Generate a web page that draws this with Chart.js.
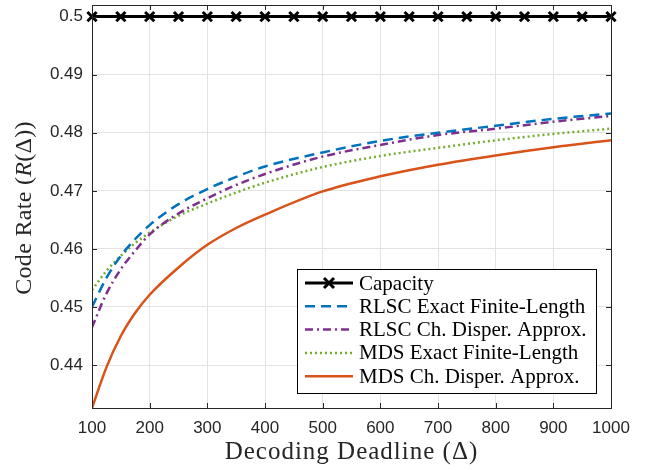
<!DOCTYPE html>
<html>
<head>
<meta charset="utf-8">
<script src="https://cdn.jsdelivr.net/npm/chart.js@4.4.1/dist/chart.umd.min.js"></script>
<style>
  html, body { margin: 0; padding: 0; background: #fff; }
  #chart { display: block; }
</style>
</head>
<body>
<canvas id="chart" width="645" height="470"></canvas>
<script>
// deadlines (Delta) where the curves were read
var deadlines = [100, 125, 150, 175, 200, 250, 300, 350, 400, 500, 600, 700, 800, 900, 1000];
var rlscExact = [0.4500, 0.4550, 0.4588, 0.4617, 0.4641, 0.4677, 0.4703, 0.4724, 0.4742, 0.4766, 0.4786, 0.4800, 0.4812, 0.4824, 0.4833];
var rlscApprox = [0.4465, 0.4523, 0.4565, 0.4597, 0.4625, 0.4661, 0.4687, 0.4710, 0.4729, 0.4759, 0.4779, 0.4796, 0.4807, 0.4819, 0.4829];
var mdsExact = [0.4529, 0.4562, 0.4588, 0.4610, 0.4628, 0.4657, 0.4678, 0.4697, 0.4714, 0.4741, 0.4760, 0.4774, 0.4787, 0.4798, 0.4807];
var mdsApprox = [0.4326, 0.4396, 0.4450, 0.4490, 0.4521, 0.4568, 0.4607, 0.4636, 0.4659, 0.4699, 0.4725, 0.4745, 0.4761, 0.4775, 0.4787];

// capacity markers
var capDeadlines = [100, 150, 200, 250, 300, 350, 400, 450, 500, 550, 600, 650, 700, 750, 800, 850, 900, 950, 1000];
var capacity = [0.5, 0.5, 0.5, 0.5, 0.5, 0.5, 0.5, 0.5, 0.5, 0.5, 0.5, 0.5, 0.5, 0.5, 0.5, 0.5, 0.5, 0.5, 0.5];

var xTicks = [100, 200, 300, 400, 500, 600, 700, 800, 900, 1000];
var yTicks = [0.44, 0.45, 0.46, 0.47, 0.48, 0.49, 0.5];

var labels = ["Capacity", "RLSC Exact Finite-Length", "RLSC Ch. Disper. Approx.", "MDS Exact Finite-Length", "MDS Ch. Disper. Approx."];

function pts(xs, ys) {
  return xs.map(function (x, i) { return { x: x, y: ys[i] }; });
}

var axisColor = "#262626";
var serif = "'Liberation Serif', 'Times New Roman', serif";
var sans = "'Liberation Sans', Arial, sans-serif";

// draw text pieces (some italic) centred on 0,0
function mixedText(ctx, parts, size, spacing) {
  ctx.letterSpacing = spacing + "px";
  var w = 0;
  parts.forEach(function (p) {
    ctx.font = (p[1] ? "italic " : "") + size + "px " + serif;
    w += ctx.measureText(p[0]).width;
  });
  var x = -w / 2;
  parts.forEach(function (p) {
    ctx.font = (p[1] ? "italic " : "") + size + "px " + serif;
    ctx.fillText(p[0], x, 0);
    x += ctx.measureText(p[0]).width;
  });
  ctx.letterSpacing = "0px";
}

// inward ticks on all sides + box, MATLAB style
var boxPlugin = {
  id: "box",
  afterDraw: function (chart) {
    var ctx = chart.ctx, a = chart.chartArea;
    var xs = chart.scales.x, ys = chart.scales.y;
    ctx.save();
    ctx.strokeStyle = axisColor;
    ctx.lineWidth = 1;
    ctx.strokeRect(a.left + 0.5, a.top + 0.5, a.right - a.left, a.bottom - a.top);
    ctx.beginPath();
    xTicks.forEach(function (t) {
      var px = Math.round(xs.getPixelForValue(t)) + 0.5;
      ctx.moveTo(px, a.bottom); ctx.lineTo(px, a.bottom - 5);
      ctx.moveTo(px, a.top); ctx.lineTo(px, a.top + 5);
    });
    yTicks.forEach(function (t) {
      var py = Math.round(ys.getPixelForValue(t)) + 0.5;
      ctx.moveTo(a.left, py); ctx.lineTo(a.left + 5, py);
      ctx.moveTo(a.right, py); ctx.lineTo(a.right - 5, py);
    });
    ctx.stroke();

    // axis titles
    ctx.fillStyle = axisColor;
    ctx.textBaseline = "middle";
    ctx.textAlign = "left";
    ctx.save();
    ctx.translate((a.left + a.right) / 2, 452);
    mixedText(ctx, [["Decoding Deadline (\u0394)", false]], 25, 1);
    ctx.restore();
    ctx.save();
    ctx.translate(25, 208);
    ctx.rotate(-Math.PI / 2);
    mixedText(ctx, [["Code Rate (", false], ["R", true], ["(\u0394))", false]], 24, 0.3);
    ctx.restore();

    // legend box
    var lx = 297, ly = 269, lw = 299, lh = 124;
    ctx.fillStyle = "#fff";
    ctx.fillRect(lx, ly, lw, lh);
    ctx.strokeStyle = "#000";
    ctx.strokeRect(lx + 0.5, ly + 0.5, lw, lh);
    ctx.font = "21px " + serif;
    ctx.textBaseline = "middle";
    chart.data.datasets.forEach(function (ds, i) {
      var yy = 283 + i * 23.3;
      ctx.save();
      ctx.strokeStyle = ds.borderColor;
      ctx.lineWidth = ds.borderWidth;
      ctx.setLineDash(ds.borderDash || []);
      ctx.beginPath();
      ctx.moveTo(305, yy); ctx.lineTo(353, yy);
      ctx.stroke();
      if (i === 0) {
        ctx.setLineDash([]);
        ctx.lineWidth = 3;
        ctx.beginPath();
        ctx.moveTo(324, yy - 5); ctx.lineTo(334, yy + 5);
        ctx.moveTo(324, yy + 5); ctx.lineTo(334, yy - 5);
        ctx.stroke();
      }
      ctx.restore();
      ctx.fillStyle = "#000";
      ctx.fillText(labels[i], 359, yy + 1);
    });
    ctx.restore();
  }
};

var chart = new Chart(document.getElementById("chart"), {
  type: "line",
  data: {
    datasets: [
      {
        label: labels[0], data: pts(capDeadlines, capacity),
        borderColor: "#000", borderWidth: 3,
        pointStyle: "crossRot", pointRadius: 6.5, pointBorderWidth: 3,
        pointBorderColor: "#000", clip: false
      },
      {
        label: labels[1], data: pts(deadlines, rlscExact),
        borderColor: "#0072BD", borderWidth: 2.5, borderDash: [10, 6],
        pointRadius: 0, cubicInterpolationMode: "monotone"
      },
      {
        label: labels[2], data: pts(deadlines, rlscApprox),
        borderColor: "#7E2F8E", borderWidth: 2.5, borderDash: [8, 4, 2, 4],
        pointRadius: 0, cubicInterpolationMode: "monotone"
      },
      {
        label: labels[3], data: pts(deadlines, mdsExact),
        borderColor: "#77AC30", borderWidth: 2.5, borderDash: [2, 3],
        pointRadius: 0, cubicInterpolationMode: "monotone"
      },
      {
        label: labels[4], data: pts(deadlines, mdsApprox),
        borderColor: "#D95319", borderWidth: 2.5,
        pointRadius: 0, cubicInterpolationMode: "monotone"
      }
    ]
  },
  options: {
    responsive: false,
    animation: false,
    layout: { autoPadding: false, padding: { left: 0, top: 5, right: 34, bottom: 0 } },
    plugins: { legend: { display: false }, tooltip: { enabled: false } },
    scales: {
      x: {
        type: "linear", min: 100, max: 1000,
        afterBuildTicks: function (s) { s.ticks = xTicks.map(function (v) { return { value: v }; }); },
        afterFit: function (s) { s.height = 62; },
        grid: { color: "#e3e3e3", drawTicks: false },
        border: { display: false },
        ticks: {
          color: axisColor, font: { family: sans, size: 17 }, padding: 10, maxRotation: 0,
          callback: function (v) { return String(v); }
        }
      },
      y: {
        type: "linear", min: 0.4326, max: 0.502,
        afterBuildTicks: function (s) { s.ticks = yTicks.map(function (v) { return { value: v }; }); },
        afterFit: function (s) { s.width = 92; s.paddingTop = 0; s.paddingBottom = 0; },
        grid: { color: "#e3e3e3", drawTicks: false },
        border: { display: false },
        ticks: {
          color: axisColor, font: { family: sans, size: 17, lineHeight: 0.5 }, padding: 9,
          callback: function (v) { return String(Math.round(v * 100) / 100); }
        }
      }
    }
  },
  plugins: [boxPlugin]
});
</script>
</body>
</html>
